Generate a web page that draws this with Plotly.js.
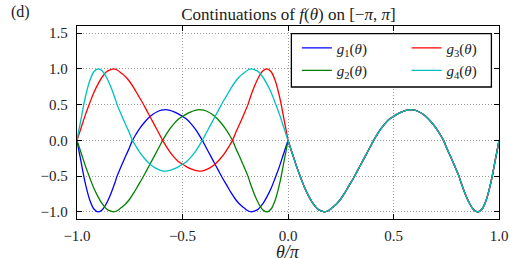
<!DOCTYPE html>
<html>
<head>
<meta charset="utf-8">
<script src="https://cdn.plot.ly/plotly-3.0.1.min.js"></script>
<style>html,body{margin:0;padding:0;background:#fff;}#chart{width:515px;height:258px;}</style>
</head>
<body>
<div id="chart"></div>
<script>
// theta/pi on [0, 1] and the common curve f
const thetaPos = [0,0.02,0.04,0.06,0.08,0.10,0.12,0.14,0.16,0.174,0.19,0.21,0.23,0.25,0.27,0.29,0.31,0.33,0.35,0.37,0.39,0.406,0.42,0.44,0.46,0.48,0.50,0.52,0.54,0.56,0.58,0.60,0.62,0.64,0.66,0.68,0.70,0.72,0.737,0.757,0.774,0.79,0.81,0.82,0.84,0.86,0.88,0.90,0.92,0.94,0.96,0.97,0.98,0.99,1.0];
const fPos = [0,-0.18,-0.36,-0.52,-0.67,-0.79,-0.89,-0.96,-0.99,-1.0,-0.985,-0.94,-0.89,-0.82,-0.73,-0.63,-0.53,-0.42,-0.31,-0.20,-0.09,0.0,0.07,0.16,0.235,0.295,0.335,0.37,0.40,0.42,0.43,0.422,0.40,0.365,0.316,0.253,0.177,0.087,0.0,-0.14,-0.25,-0.36,-0.5,-0.59,-0.75,-0.88,-0.97,-1.0,-0.96,-0.83,-0.61,-0.47,-0.31,-0.16,0.0];
const fNeg = [0,0.18,0.36,0.52,0.67,0.79,0.89,0.96,0.99,1.0,0.985,0.94,0.89,0.82,0.73,0.63,0.53,0.42,0.31,0.20,0.09,0.0,-0.07,-0.16,-0.235,-0.295,-0.335,-0.37,-0.40,-0.42,-0.43,-0.422,-0.40,-0.365,-0.316,-0.253,-0.177,-0.087,0.0,0.14,0.25,0.36,0.5,0.59,0.75,0.88,0.97,1.0,0.96,0.83,0.61,0.47,0.31,0.16,0.0];
// theta/pi positions on [-1, 0] for the shifted and mirrored continuations
const thetaShift = [-1,-0.98,-0.96,-0.94,-0.92,-0.90,-0.88,-0.86,-0.84,-0.826,-0.81,-0.79,-0.77,-0.75,-0.73,-0.71,-0.69,-0.67,-0.65,-0.63,-0.61,-0.594,-0.58,-0.56,-0.54,-0.52,-0.50,-0.48,-0.46,-0.44,-0.42,-0.40,-0.38,-0.36,-0.34,-0.32,-0.30,-0.28,-0.263,-0.243,-0.226,-0.21,-0.19,-0.18,-0.16,-0.14,-0.12,-0.10,-0.08,-0.06,-0.04,-0.03,-0.02,-0.01,0];
const thetaMirror = [0,-0.02,-0.04,-0.06,-0.08,-0.10,-0.12,-0.14,-0.16,-0.174,-0.19,-0.21,-0.23,-0.25,-0.27,-0.29,-0.31,-0.33,-0.35,-0.37,-0.39,-0.406,-0.42,-0.44,-0.46,-0.48,-0.50,-0.52,-0.54,-0.56,-0.58,-0.60,-0.62,-0.64,-0.66,-0.68,-0.70,-0.72,-0.737,-0.757,-0.774,-0.79,-0.81,-0.82,-0.84,-0.86,-0.88,-0.90,-0.92,-0.94,-0.96,-0.97,-0.98,-0.99,-1.0];

const seriesNames = ['<i>g</i><sub>1</sub>(<i>θ</i>)','<i>g</i><sub>2</sub>(<i>θ</i>)','<i>g</i><sub>3</sub>(<i>θ</i>)','<i>g</i><sub>4</sub>(<i>θ</i>)'];
const seriesColors = ['#0000ff','#008000','#ff0000','#00bfbf'];
const leftX = [thetaMirror, thetaShift, thetaShift, thetaMirror];
const leftY = [fPos, fPos, fNeg, fNeg];
const legendColumn = ['legend', 'legend', 'legend2', 'legend2'];

const xTicks = [-1.0,-0.5,0.0,0.5,1.0];
const yTicks = [-1.0,-0.5,0.0,0.5,1.0,1.5];

const font = 'Liberation Serif, Times New Roman, serif';

const traces = seriesNames.map((n, i) => ({
  type: 'scatter', mode: 'lines', name: n,
  x: leftX[i].concat([null], thetaPos),
  y: leftY[i].concat([null], fPos),
  line: {color: seriesColors[i], width: 1.3, shape: 'spline', smoothing: 1},
  legend: legendColumn[i],
  hoverinfo: 'skip'
}));

const axisCommon = {
  showline: true, mirror: 'ticks', linecolor: '#000', linewidth: 1.3,
  ticks: 'inside', ticklen: 5, tickwidth: 1, tickcolor: '#000',
  showgrid: true, gridcolor: '#999', gridwidth: 1, griddash: '1px,2px',
  zeroline: false, tickfont: {family: font, size: 15, color: '#222'},
  tickformat: '.1f'
};

const legendCommon = {orientation: 'v', xanchor: 'left', yanchor: 'top',
  bgcolor: 'rgba(0,0,0,0)', borderwidth: 0,
  font: {family: font, size: 15, color: '#222'}, traceorder: 'normal'};

const layout = {
  width: 515, height: 258,
  margin: {l: 77, r: 16, t: 26, b: 39},
  paper_bgcolor: '#fff', plot_bgcolor: '#fff',
  font: {family: font, color: '#222'},
  title: {text: 'Continuations of <i>f</i>(<i>θ</i>) on [−<i>π</i>, <i>π</i>]', font: {family: font, size: 17, color: '#222'}, x: 0.56, xanchor: 'center', yref: 'container', y: 0.945, yanchor: 'middle'},
  xaxis: Object.assign({}, axisCommon, {range: [-1, 1], tickvals: xTicks, ticklabelstandoff: 3}),
  yaxis: Object.assign({}, axisCommon, {range: [-1.1, 1.6], tickvals: yTicks, ticklabelstandoff: 5}),
  showlegend: true,
  legend: Object.assign({}, legendCommon, {x: 0.521, y: 0.971}),
  legend2: Object.assign({}, legendCommon, {x: 0.781, y: 0.971}),
  shapes: [{type: 'rect', xref: 'paper', yref: 'paper', x0: 0.508, x1: 0.982, y0: 0.684, y1: 0.961,
    line: {color: '#000', width: 1.3}, fillcolor: '#fff', layer: 'above'}],
  annotations: [
    {text: '(d)', xref: 'paper', yref: 'paper', x: -0.16, y: 1.07, xanchor: 'left', yanchor: 'middle', showarrow: false, font: {family: font, size: 16, color: '#222'}},
    {text: '<i>θ/π</i>', xref: 'paper', yref: 'paper', x: 0.5, y: -0.113, xanchor: 'center', yanchor: 'top', borderpad: 0, showarrow: false, font: {family: font, size: 18, color: '#222'}}
  ]
};

Plotly.newPlot('chart', traces, layout, {staticPlot: true, displayModeBar: false});
</script>
</body>
</html>
